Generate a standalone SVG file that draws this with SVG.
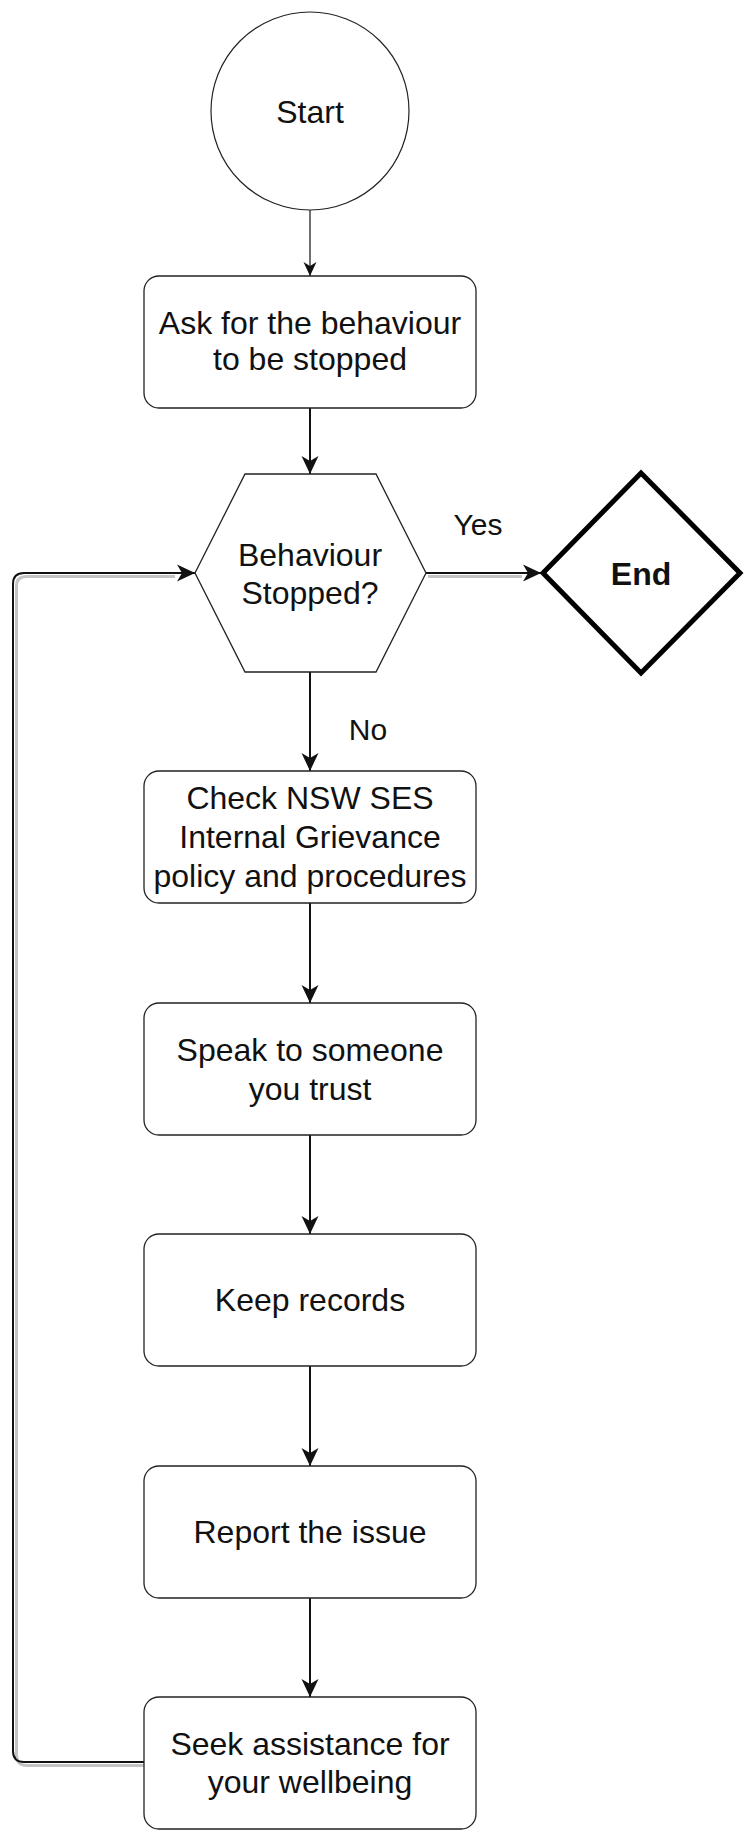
<svg xmlns="http://www.w3.org/2000/svg" width="744" height="1836" viewBox="0 0 744 1836">
  <style>
    .box { fill: #fff; stroke: #222; stroke-width: 1.3; }
    .t { font-family: "Liberation Sans", Arial, sans-serif; font-size: 32px; fill: #111; text-anchor: middle; }
    .lbl { font-family: "Liberation Sans", Arial, sans-serif; font-size: 30px; fill: #111; text-anchor: middle; }
    .e { stroke: #111; stroke-width: 2; fill: none; }
    .thin { stroke: #111; stroke-width: 1.2; fill: none; }
    .sh { stroke: #c4c4c4; stroke-width: 3; fill: none; }
  </style>
  <defs>
    <marker id="ah" markerUnits="userSpaceOnUse" markerWidth="20" markerHeight="20" viewBox="-19 -10 20 20" refX="0" refY="0" orient="auto">
      <path d="M0,0 L-18,-8.5 L-13,0 L-18,8.5 Z" fill="#111"/>
    </marker>
    <marker id="ahs" markerUnits="userSpaceOnUse" markerWidth="16" markerHeight="16" viewBox="-15 -8 16 16" refX="0" refY="0" orient="auto">
      <path d="M0,0 L-14,-6.5 L-10,0 L-14,6.5 Z" fill="#111"/>
    </marker>
  </defs>

  <g id="connectors">
    <path class="thin" d="M310,210 L310,276" marker-end="url(#ahs)"/>
    <path class="e" d="M310,408 L310,474" marker-end="url(#ah)"/>
    <path class="e" d="M310,672 L310,771" marker-end="url(#ah)"/>
    <path class="e" d="M310,903 L310,1003" marker-end="url(#ah)"/>
    <path class="e" d="M310,1135 L310,1234" marker-end="url(#ah)"/>
    <path class="e" d="M310,1366 L310,1466" marker-end="url(#ah)"/>
    <path class="e" d="M310,1598 L310,1697" marker-end="url(#ah)"/>
    <!-- Yes -->
    <path class="sh" d="M428,576.5 L522,576.5"/>
    <path class="e" stroke-width="2.5" d="M426,573 L541,573" marker-end="url(#ah)"/>
    <text class="lbl" x="478" y="535">Yes</text>
    <!-- No -->
    <text class="lbl" x="368" y="740">No</text>
    <!-- Loop -->
    <path class="sh" d="M144,1765.5 L27,1765.5 Q16.5,1765.5 16.5,1755 L16.5,586 Q16.5,576.5 27,576.5 L175,576.5"/>
    <path class="e" stroke-width="2.5" d="M144,1762 L24,1762 Q13,1762 13,1751 L13,584 Q13,573 24,573 L195,573" marker-end="url(#ah)"/>
  </g>

  <g id="start">
    <circle cx="310" cy="111" r="99" fill="#fff" stroke="#222" stroke-width="1.2"/>
    <text class="t" x="310" y="123">Start</text>
  </g>

  <g id="ask">
    <rect class="box" x="144" y="276" width="332" height="132" rx="15" ry="15"/>
    <text class="t" x="310" y="334" font-size="31">Ask for the behaviour</text>
    <text class="t" x="310" y="370" font-size="31">to be stopped</text>
  </g>

  <g id="decision">
    <polygon class="box" points="195,573 245,474 376,474 426,573 376,672 245,672" stroke-width="1.1"/>
    <text class="t" x="310" y="566">Behaviour</text>
    <text class="t" x="310" y="604">Stopped?</text>
  </g>

  <g id="end">
    <polygon points="641,473 740,573 641,673 543,573" fill="#fff" stroke="#000" stroke-width="5"/>
    <text class="t" x="641" y="585" font-weight="bold" font-size="31">End</text>
  </g>

  <g id="check">
    <rect class="box" x="144" y="771" width="332" height="132" rx="15" ry="15"/>
    <text class="t" x="310" y="809">Check NSW SES</text>
    <text class="t" x="310" y="848">Internal Grievance</text>
    <text class="t" x="310" y="887">policy and procedures</text>
  </g>

  <g id="speak">
    <rect class="box" x="144" y="1003" width="332" height="132" rx="15" ry="15"/>
    <text class="t" x="310" y="1061">Speak to someone</text>
    <text class="t" x="310" y="1100">you trust</text>
  </g>

  <g id="keep">
    <rect class="box" x="144" y="1234" width="332" height="132" rx="15" ry="15"/>
    <text class="t" x="310" y="1311">Keep records</text>
  </g>

  <g id="report">
    <rect class="box" x="144" y="1466" width="332" height="132" rx="15" ry="15"/>
    <text class="t" x="310" y="1543">Report the issue</text>
  </g>

  <g id="seek">
    <rect class="box" x="144" y="1697" width="332" height="132" rx="15" ry="15"/>
    <text class="t" x="310" y="1755">Seek assistance for</text>
    <text class="t" x="310" y="1793">your wellbeing</text>
  </g>
</svg>
